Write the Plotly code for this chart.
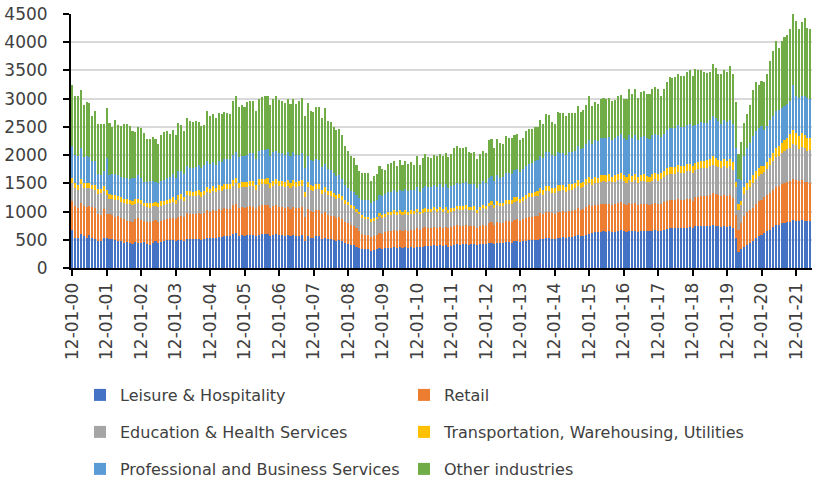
import plotly.graph_objects as go
import pandas as pd

# Monthly categories Dec 2000 .. May 2022 (labels shown as mm-dd-yy)
months = pd.date_range("2000-12-01", periods=258, freq="MS").strftime("%m-%d-%y").tolist()
tick_labels = ["12-01-%02d" % y for y in range(0, 22)]

series_names = ["Leisure & Hospitality", "Retail", "Education & Health Services",
                "Transportation, Warehousing, Utilities",
                "Professional and Business Services", "Other industries"]

leisure = [
    670,
    540, 540, 600, 560, 540, 580, 540, 520, 480, 470, 540, 530,
    520, 510, 500, 480, 470, 450, 460, 450, 420, 460, 450, 440,
    460, 420, 400, 450, 470, 450, 460, 480, 490, 500, 500, 480,
    490, 500, 480, 520, 510, 510, 510, 520, 500, 510, 540, 530,
    540, 530, 550, 550, 560, 560, 560, 600, 620, 570, 580, 570,
    580, 590, 580, 560, 590, 600, 600, 600, 570, 590, 600, 580,
    580, 570, 580, 560, 580, 570, 570, 580, 470, 560, 540, 530,
    560, 560, 520, 540, 510, 510, 500, 480, 490, 470, 440, 430,
    410, 400, 380, 360, 340, 330, 330, 310, 320, 330, 350, 340,
    350, 360, 360, 370, 360, 370, 360, 370, 360, 370, 360, 380,
    370, 380, 390, 390, 390, 400, 390, 400, 390, 400, 380, 390,
    410, 420, 410, 420, 420, 410, 420, 420, 400, 420, 430, 420,
    440, 450, 430, 450, 440, 440, 460, 460, 450, 470, 470, 460,
    470, 480, 490, 490, 500, 500, 520, 510, 530, 530, 520, 510,
    540, 540, 550, 540, 550, 550, 560, 580, 560, 570, 590, 610,
    620, 630, 630, 640, 650, 640, 650, 640, 640, 660, 670, 650,
    640, 660, 650, 660, 640, 650, 660, 650, 650, 660, 670, 660,
    660, 680, 690, 700, 700, 700, 710, 700, 700, 710, 720, 700,
    740, 740, 750, 740, 740, 750, 760, 750, 740, 730, 740, 730,
    740, 700, 530, 280, 330, 370, 410, 440, 470, 530, 560, 590,
    620, 650, 680, 720, 760, 770, 790, 800, 810, 820, 850, 840,
    840, 850, 830, 840, 830,
]

retail = [
    520,
    560, 530, 560, 540, 540, 520, 540, 550, 470, 470, 500, 420,
    430, 430, 410, 450, 410, 410, 380, 390, 400, 400, 440, 410,
    380, 400, 410, 380, 380, 370, 380, 370, 380, 380, 390, 380,
    420, 430, 420, 460, 450, 450, 450, 460, 450, 460, 480, 470,
    490, 480, 490, 480, 500, 490, 490, 510, 520, 500, 500, 500,
    500, 500, 500, 480, 510, 510, 510, 510, 490, 500, 510, 500,
    500, 490, 500, 490, 500, 490, 500, 500, 440, 490, 470, 460,
    470, 470, 440, 450, 430, 420, 420, 410, 410, 400, 380, 370,
    350, 340, 320, 300, 270, 250, 250, 240, 240, 250, 270, 260,
    290, 300, 300, 310, 300, 310, 300, 310, 300, 310, 310, 320,
    310, 320, 330, 320, 320, 330, 320, 330, 320, 330, 320, 330,
    330, 340, 340, 330, 340, 330, 320, 330, 310, 320, 340, 330,
    350, 360, 340, 360, 350, 350, 370, 370, 370, 380, 390, 380,
    390, 410, 420, 420, 430, 430, 450, 440, 460, 460, 450, 450,
    460, 460, 460, 450, 460, 460, 470, 480, 470, 480, 490, 500,
    470, 480, 480, 490, 490, 490, 490, 480, 490, 490, 500, 490,
    470, 490, 480, 490, 470, 480, 480, 480, 470, 480, 490, 480,
    480, 490, 500, 500, 500, 500, 510, 500, 500, 510, 500, 490,
    520, 520, 530, 540, 540, 550, 560, 560, 550, 540, 550, 540,
    550, 540, 410, 390, 460, 560, 580, 590, 600, 610, 620, 610,
    630, 640, 650, 660, 670, 680, 700, 710, 710, 720, 730, 720,
    700, 710, 700, 680, 680,
]

education = [
    320,
    320, 320, 330, 320, 330, 320, 320, 320, 360, 380, 330, 350,
    280, 290, 300, 270, 290, 290, 300, 290, 290, 280, 270, 280,
    250, 260, 260, 260, 250, 260, 260, 270, 260, 270, 280, 270,
    300, 300, 290, 310, 320, 310, 320, 320, 310, 320, 330, 320,
    330, 330, 340, 340, 340, 350, 350, 350, 360, 350, 360, 360,
    360, 360, 370, 350, 370, 370, 370, 380, 360, 370, 370, 370,
    370, 370, 380, 370, 380, 370, 380, 380, 350, 380, 370, 370,
    370, 370, 350, 360, 350, 350, 340, 340, 340, 330, 320, 310,
    300, 300, 290, 290, 280, 280, 280, 270, 280, 280, 300, 290,
    270, 280, 280, 280, 280, 280, 280, 280, 280, 280, 280, 290,
    270, 280, 280, 280, 280, 290, 280, 290, 280, 290, 280, 280,
    270, 280, 280, 280, 290, 280, 280, 280, 270, 280, 290, 290,
    300, 300, 290, 310, 300, 300, 310, 310, 310, 320, 320, 310,
    320, 330, 340, 340, 340, 350, 360, 350, 370, 370, 360, 360,
    370, 370, 370, 360, 370, 370, 380, 390, 380, 380, 390, 400,
    380, 390, 390, 400, 400, 400, 410, 400, 400, 410, 410, 400,
    400, 410, 400, 410, 400, 410, 410, 400, 400, 410, 410, 410,
    430, 440, 460, 470, 470, 470, 480, 480, 480, 490, 500, 500,
    480, 490, 490, 500, 500, 500, 510, 500, 500, 500, 510, 500,
    510, 500, 490, 360, 330, 380, 400, 410, 440, 440, 450, 460,
    450, 470, 490, 510, 530, 540, 550, 560, 580, 590, 620, 620,
    560, 590, 590, 560, 580,
]

transport = [
    80,
    90, 80, 90, 80, 90, 80, 70, 80, 90, 80, 80, 80,
    80, 70, 80, 70, 80, 70, 80, 70, 70, 80, 70, 70,
    70, 70, 80, 70, 70, 70, 80, 70, 70, 70, 80, 70,
    80, 80, 70, 80, 80, 80, 80, 80, 80, 80, 90, 80,
    90, 80, 90, 80, 90, 90, 90, 100, 100, 90, 90, 90,
    90, 90, 90, 80, 100, 100, 100, 100, 90, 90, 100, 90,
    90, 90, 100, 90, 100, 90, 90, 100, 80, 90, 90, 90,
    90, 90, 80, 90, 80, 80, 70, 70, 70, 70, 60, 60,
    60, 60, 60, 50, 50, 50, 50, 50, 50, 50, 50, 50,
    50, 50, 50, 60, 50, 60, 50, 60, 50, 60, 60, 60,
    50, 60, 60, 60, 60, 60, 60, 60, 60, 60, 50, 60,
    60, 60, 60, 60, 60, 60, 60, 60, 50, 60, 60, 60,
    70, 70, 60, 70, 70, 70, 70, 70, 70, 80, 80, 70,
    80, 80, 80, 80, 80, 90, 90, 90, 100, 100, 90, 90,
    100, 100, 90, 90, 100, 100, 100, 110, 100, 100, 110, 110,
    100, 110, 100, 110, 110, 110, 110, 100, 110, 110, 110, 100,
    100, 110, 100, 110, 100, 110, 110, 100, 100, 110, 110, 110,
    110, 110, 120, 120, 120, 120, 130, 120, 120, 130, 130, 120,
    120, 120, 130, 120, 130, 140, 150, 140, 130, 120, 130, 130,
    130, 130, 90, 100, 60, 120, 120, 120, 130, 140, 150, 140,
    100, 110, 130, 150, 170, 170, 180, 190, 210, 250, 250, 220,
    230, 250, 230, 220, 210,
]

professional = [
    570,
    500, 510, 550, 460, 490, 470, 420, 430, 260, 240, 260, 570,
    340, 360, 380, 380, 370, 380, 380, 380, 420, 380, 410, 390,
    370, 380, 400, 390, 360, 360, 370, 370, 390, 400, 420, 400,
    420, 410, 400, 430, 420, 420, 430, 440, 440, 450, 460, 450,
    420, 410, 420, 430, 440, 440, 440, 450, 460, 450, 460, 460,
    480, 490, 490, 470, 500, 510, 510, 510, 480, 500, 500, 500,
    490, 480, 490, 480, 490, 480, 470, 480, 430, 460, 450, 440,
    440, 430, 400, 410, 380, 370, 350, 330, 330, 300, 270, 250,
    250, 250, 240, 240, 270, 290, 300, 280, 290, 300, 320, 330,
    350, 360, 360, 360, 350, 360, 370, 380, 370, 370, 370, 380,
    350, 380, 400, 390, 380, 390, 390, 400, 380, 400, 380, 400,
    400, 410, 400, 410, 410, 400, 400, 400, 390, 400, 420, 410,
    440, 450, 430, 450, 440, 450, 470, 470, 470, 480, 490, 480,
    490, 510, 520, 530, 540, 540, 560, 560, 590, 590, 580, 570,
    580, 570, 570, 560, 570, 570, 570, 600, 590, 600, 610, 650,
    630, 650, 650, 670, 660, 660, 660, 650, 660, 670, 680, 660,
    650, 680, 670, 680, 660, 670, 680, 670, 670, 690, 700, 690,
    640, 660, 680, 690, 690, 690, 700, 700, 690, 700, 710, 700,
    670, 680, 680, 670, 660, 680, 720, 700, 680, 670, 690, 680,
    700, 690, 600, 440, 380, 560, 610, 650, 690, 710, 700, 720,
    650, 650, 670, 660, 650, 640, 620, 610, 590, 570, 800, 650,
    690, 650, 690, 710, 700,
]

other = [
    1090,
    1040, 1070, 1030, 920, 950, 950, 810, 890, 890, 910, 840, 880,
    920, 830, 960, 890, 900, 950, 950, 940, 820, 810, 860, 890,
    860, 750, 740, 770, 750, 690, 810, 850, 840, 760, 780, 750,
    860, 810, 760, 860, 830, 820, 820, 760, 740, 720, 890, 850,
    860, 820, 860, 850, 830, 820, 800, 940, 980, 890, 900, 870,
    930, 920, 920, 840, 930, 940, 950, 950, 890, 940, 960, 940,
    920, 920, 950, 920, 950, 910, 940, 970, 920, 940, 870, 870,
    920, 940, 870, 980, 860, 860, 810, 810, 830, 780, 690, 660,
    610, 600, 540, 480, 470, 480, 470, 400, 450, 450, 520, 490,
    430, 500, 510, 510, 470, 530, 470, 490, 490, 490, 450, 550,
    480, 530, 560, 520, 520, 540, 550, 540, 550, 550, 550, 560,
    650, 650, 630, 620, 620, 580, 560, 570, 510, 540, 540, 530,
    670, 650, 570, 650, 610, 580, 660, 630, 630, 630, 620, 570,
    550, 610, 610, 600, 600, 590, 640, 610, 670, 660, 590, 570,
    710, 700, 700, 690, 690, 690, 670, 710, 670, 670, 700, 780,
    670, 680, 660, 680, 700, 690, 690, 690, 680, 700, 700, 690,
    730, 830, 790, 820, 750, 790, 800, 790, 800, 830, 830, 830,
    730, 800, 850, 900, 880, 900, 900, 910, 910, 940, 940, 890,
    1000, 960, 930, 910, 880, 860, 910, 890, 840, 880, 890, 900,
    940, 880, 820, 450, 670, 580, 610, 680, 830, 870, 770, 800,
    850, 910, 1050, 1140, 1240, 1090, 1190, 1230, 1230, 1290, 1250, 1330,
    1220, 1300, 1390, 1250, 1240,
]

series_values = [leisure, retail, education, transport, professional, other]
colors = ["#4472C4", "#ED7D31", "#A5A5A5", "#FFC000", "#5B9BD5", "#70AD47"]
legend_ids = ["legend", "legend2", "legend3", "legend4", "legend5", "legend6"]

FONT = "DejaVu Sans"
TXT = "#404040"
W, H = 813, 481

fig = go.Figure()
for name, vals, col, lg in zip(series_names, series_values, colors, legend_ids):
    fig.add_trace(go.Bar(x=months, y=vals, name=name, legend=lg,
                         marker=dict(color=col, line=dict(width=0))))


def leg(px_left, px_row):
    return dict(orientation="h", xref="container", yref="container",
                x=px_left / W, xanchor="left",
                y=1 - px_row / H, yanchor="middle",
                font=dict(family=FONT, size=16, color=TXT),
                itemwidth=30, bgcolor="rgba(0,0,0,0)")


col_x = [80, 404]
row_y = [395, 432, 469]

fig.update_layout(
    width=W, height=H, autosize=False,
    margin=dict(l=71, r=1, t=14, b=213, autoexpand=False),
    paper_bgcolor="white", plot_bgcolor="white",
    barmode="stack", bargap=0.45,
    showlegend=True,
    legend=leg(col_x[0], row_y[0]),
    legend2=leg(col_x[1], row_y[0]),
    legend3=leg(col_x[0], row_y[1]),
    legend4=leg(col_x[1], row_y[1]),
    legend5=leg(col_x[0], row_y[2]),
    legend6=leg(col_x[1], row_y[2]),
    font=dict(family=FONT, color=TXT),
    xaxis=dict(type="category", tickmode="array", tickvals=tick_labels, ticktext=tick_labels,
               tickangle=-90, ticks="outside", ticklen=6, tickcolor="black", tickwidth=1.5,
               showline=True, linecolor="black", linewidth=2, showgrid=False,
               automargin=False,
               tickfont=dict(family=FONT, size=17, color=TXT)),
    yaxis=dict(range=[0, 4500], dtick=500, tick0=0, showgrid=True, gridcolor="#D9D9D9",
               gridwidth=1.5, showline=True, linecolor="black", linewidth=2,
               ticks="outside", ticklen=6, tickcolor="black", tickwidth=1.5,
               zeroline=False, ticklabelstandoff=12, automargin=False,
               tickfont=dict(family=FONT, size=17, color=TXT)),
)

fig.write_html("out.html", config={"displayModeBar": False},
               post_script="document.body.style.margin='0';document.body.style.padding='0';")
